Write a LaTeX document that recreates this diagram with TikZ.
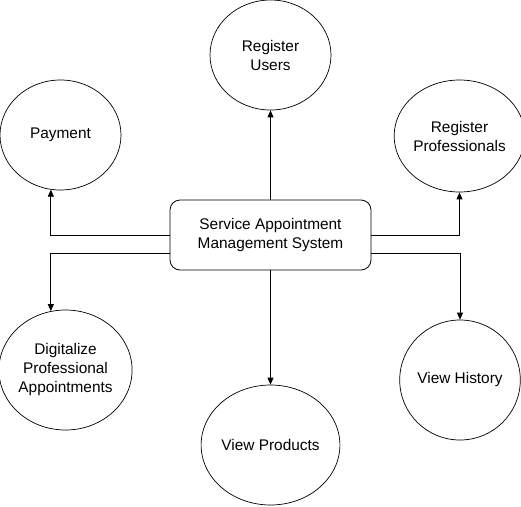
\documentclass[tikz,border=0pt]{standalone}
\usepackage{fontspec}
\setmainfont{Liberation Sans}
\usetikzlibrary{arrows.meta, positioning, shapes.geometric}

\begin{document}
\begin{tikzpicture}[x=1pt, y=-1pt,
    usecase/.style={draw, ellipse, line width=0.7pt, inner sep=0pt,
                    align=center, font=\fontsize{15.4}{19}\selectfont},
    system/.style={draw, rounded corners=10pt, line width=0.8pt,
                   minimum width=201, minimum height=70,
                   align=center, font=\fontsize{15.4}{19}\selectfont},
    flow/.style={-{Triangle[length=7pt,width=6pt]}, line width=0.8pt}]
  \useasboundingbox (0,0) rectangle (521,506);
  \node[system] (sams) at (270.5,235) {Service Appointment\\Management System};
  % use cases round the system
  \foreach \n/\x/\y/\w/\h/\t in {
      users/270.5/55/121/110/{Register\\Users},
      pay/60.5/135/121/110/{Payment},
      prof/459.5/136/119/112/{Register\\Professionals},
      dig/65.5/370/131/120/{Digitalize\\Professional\\Appointments},
      prod/270.5/445/129/120/{View Products},
      hist/460/380/120/120/{View History}}
    \node[usecase, minimum width=\w, minimum height=\h] (\n) at (\x,\y) {\t};
  \draw[flow] (sams) -- (users);
  \draw[flow] (sams.west) -| (pay.260);
  \draw[flow] ([yshift=-18pt]sams.west) -| (dig.104);
  \draw[flow] (sams.east) -| (prof);
  \draw[flow] ([yshift=-18pt]sams.east) -| (hist);
  \draw[flow] (sams) -- (prod);
\end{tikzpicture}
\end{document}
